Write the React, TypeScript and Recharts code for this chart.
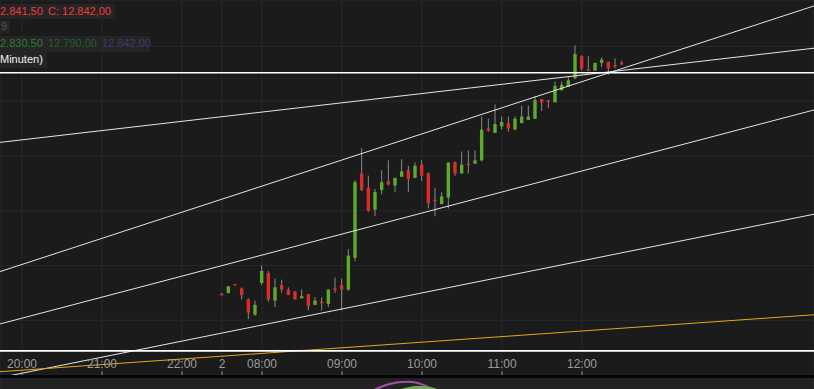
import React from 'react';
import { ComposedChart, Bar, Line, XAxis, YAxis, CartesianGrid, ReferenceLine } from 'recharts';

// 5-minute candles, slot 0 = start of session "2"
const OPEN = [
  12737, 12737.5, 12741.5, 12739.5, 12734.5, 12727.5, 12742, 12746.5, 12734, 12741,
  12739, 12738, 12735, 12737, 12732, 12733.5, 12732.5, 12739.5, 12741, 12739,
  12753.5, 12792, 12785.5, 12775.5, 12784.5, 12788.5, 12786.5, 12790.5, 12793.5, 12790,
  12796, 12792, 12780, 12778, 12781, 12797, 12792, 12796.5, 12796.5, 12798,
  12812.5, 12810.5, 12813.5, 12815, 12812, 12815, 12816.5, 12817, 12826, 12825.5,
  12824.5, 12830, 12831.5, 12835.5, 12845.5, 12839.5, 12839, 12842.5, 12843, 12841.5,
  12842.5,
];
const HIGH = [
  12737.5, 12740.5, 12741.5, 12740, 12735, 12734, 12750, 12747.5, 12744, 12743.5,
  12740, 12738.5, 12739, 12737, 12735.5, 12735.5, 12739, 12744.5, 12744, 12757.5,
  12789, 12803.5, 12791, 12785, 12793.5, 12798, 12790, 12798.5, 12795.5, 12797,
  12798, 12792.5, 12785.5, 12783.5, 12797, 12797.5, 12802, 12802.5, 12802.5, 12818,
  12817, 12823.5, 12818, 12818, 12818, 12823, 12823, 12827.5, 12826, 12825.5,
  12834, 12834, 12836, 12850.5, 12846, 12845.5, 12842.5, 12845, 12843, 12844.5,
  12843.5,
];
const LOW = [
  12736.5, 12737, 12741, 12734.5, 12725.5, 12727, 12741, 12733.5, 12731, 12737.5,
  12736.5, 12734.5, 12735, 12729.5, 12732, 12729.5, 12731, 12737.5, 12729.5, 12738.5,
  12752, 12784, 12774.5, 12772.5, 12782.5, 12786.5, 12783.5, 12790.5, 12783.5, 12790,
  12788.5, 12776, 12772.5, 12778, 12776, 12791, 12792, 12792, 12796.5, 12797.5,
  12811, 12810.5, 12812, 12811, 12812, 12815, 12816.5, 12817, 12820.5, 12822,
  12824.5, 12830, 12831.5, 12835, 12839, 12839, 12839, 12840.5, 12837, 12840,
  12841.5,
];
const CLOSE = [
  12736.5, 12740.5, 12741, 12736.5, 12728.5, 12732, 12747.5, 12734.5, 12740, 12739,
  12736.5, 12734.5, 12736, 12731.5, 12734, 12733, 12739, 12739, 12739, 12754.5,
  12788, 12784.5, 12775, 12783.5, 12788, 12787, 12790, 12793, 12789.5, 12795.5,
  12791, 12778.5, 12779.5, 12781.5, 12797, 12792, 12796, 12796, 12798, 12812,
  12811.5, 12814.5, 12815.5, 12812.5, 12817, 12818, 12818, 12825.5, 12824.5, 12825,
  12832, 12832.5, 12834.5, 12846.5, 12840, 12839, 12842.5, 12844, 12840, 12841,
  12842,
];

const TICK_SLOTS = [-30, -18, -6, 0, 6, 18, 30, 42, 54];
const TICK_LABELS = ['20:00', '21:00', '22:00', '2', '08:00', '09:00', '10:00', '11:00', '12:00'];
const PRICE_GRID = [12725, 12750, 12775, 12800, 12825, 12850];

// drawn lines: [slot, price] pairs
const LEVELS = [12838, 12711];
const TRENDS = [
  [[-33.3, 12806.2], [88.8, 12849.2]],
  [[-33.3, 12747.2], [88.8, 12868.5]],
  [[-33.3, 12723.3], [88.8, 12821]],
  [[-33.3, 12698.8], [88.8, 12773.4]],
];
const ORANGE_TREND = [[-33.3, 12701.5], [88.8, 12727.5]];

// lower indicator pane, only its upper edge is visible
const OSC_SLOTS = [22, 23, 24, 25, 26, 27, 28, 29, 30, 31, 32, 33];
const OSC_PURPLE = [85, 88.5, 91.5, 93.8, 95.3, 96.1, 96.3, 95.6, 93.6, 90.6, 86, 82];
const OSC_GREEN = [80, 82, 84, 85.5, 86.5, 87.8, 89.4, 90.6, 90.6, 89.7, 88, 85];

const X_DOMAIN = [-33.3, 88.8];
const Y_DOMAIN = [12700, 12871.2];

const candles = OPEN.map((o, i) => ({
  slot: i,
  open: o,
  high: HIGH[i],
  low: LOW[i],
  close: CLOSE[i],
  range: [LOW[i], HIGH[i]],
}));

const osc = OSC_SLOTS.map((s, i) => ({ slot: s, purple: OSC_PURPLE[i], green: OSC_GREEN[i] }));

const UP = '#5dab2d';
const DOWN = '#dc2b2b';
const WICK = '#8a8a8a';
const FONT = '"Liberation Sans", Arial, sans-serif';

const Candle = (props: any) => {
  const { x, y, width, height, payload } = props;
  const { open, close, high, low } = payload;
  const top = Math.min(y, y + height);
  const h = Math.abs(height);
  const ratio = high === low ? 0 : h / (high - low);
  const bodyTop = top + (high - Math.max(open, close)) * ratio;
  const bodyBottom = top + (high - Math.min(open, close)) * ratio;
  const cx = x + width / 2;
  return (
    <g>
      <line x1={cx} x2={cx} y1={top} y2={top + h} stroke={WICK} strokeWidth={1} />
      <rect
        x={cx - 1.7}
        y={bodyTop}
        width={3.4}
        height={Math.max(bodyBottom - bodyTop, 1.5)}
        fill={close >= open ? UP : DOWN}
      />
    </g>
  );
};

// labels sit inside the plot, just above the lower pane
const TimeTick = (props: any) => {
  const { x, payload } = props;
  const label = TICK_LABELS[TICK_SLOTS.indexOf(payload.value)];
  return (
    <g>
      <line x1={x} x2={x} y1={371.5} y2={375} stroke="#9a9a9a" />
      <text x={x} y={368} textAnchor="middle" fill="#9d9d9d" fontSize={12} fontFamily={FONT}>
        {label}
      </text>
    </g>
  );
};

export default function App() {
  return (
    <div
      style={{
        position: 'absolute',
        left: 0,
        top: 0,
        width: 814,
        height: 389,
        background: '#1b1b1b',
        overflow: 'hidden',
      }}
    >
      <ComposedChart width={814} height={375} data={candles} margin={{ top: 0, right: 0, bottom: 0, left: 0 }}>
        <CartesianGrid stroke="#292929" />
        <XAxis
          type="number"
          dataKey="slot"
          domain={X_DOMAIN}
          allowDataOverflow
          ticks={TICK_SLOTS}
          interval={0}
          mirror
          height={30}
          axisLine={false}
          tickLine={false}
          tick={<TimeTick />}
        />
        <YAxis hide type="number" domain={Y_DOMAIN} allowDataOverflow ticks={PRICE_GRID} />
        {TRENDS.map((t, i) => (
          <ReferenceLine
            key={`t-${i}`}
            segment={[{ x: t[0][0], y: t[0][1] }, { x: t[1][0], y: t[1][1] }]}
            stroke="#e6e6e6"
            strokeWidth={1}
            ifOverflow="hidden"
          />
        ))}
        <ReferenceLine
          segment={[
            { x: ORANGE_TREND[0][0], y: ORANGE_TREND[0][1] },
            { x: ORANGE_TREND[1][0], y: ORANGE_TREND[1][1] },
          ]}
          stroke="#eaa51a"
          strokeWidth={1}
          ifOverflow="hidden"
        />
        {LEVELS.map((v) => (
          <ReferenceLine key={v} y={v} stroke="#ffffff" strokeWidth={1.6} />
        ))}
        <Bar dataKey="range" barSize={4} shape={<Candle />} isAnimationActive={false} />
      </ComposedChart>

      <div style={{ position: 'absolute', left: 0, top: 375, width: 814, height: 3, background: '#050505' }} />
      <div style={{ position: 'absolute', left: 0, top: 378, width: 814, height: 11, background: '#222222' }}>
        <ComposedChart width={814} height={11} data={osc} margin={{ top: 0, right: 0, bottom: 0, left: 0 }}>
          <CartesianGrid stroke="#2e2e2e" horizontal={false} />
          <XAxis
            type="number"
            dataKey="slot"
            domain={X_DOMAIN}
            allowDataOverflow
            ticks={TICK_SLOTS}
            interval={0}
            mirror
            axisLine={false}
            tickLine={false}
            tick={false}
          />
          <YAxis hide type="number" domain={[89, 100]} allowDataOverflow />
          <Line type="monotone" dataKey="purple" stroke="#a24fa6" strokeWidth={2} dot={false} isAnimationActive={false} />
          <Line type="monotone" dataKey="green" stroke="#72ad55" strokeWidth={3} dot={false} isAnimationActive={false} />
        </ComposedChart>
      </div>

      <svg width={160} height={70} style={{ position: 'absolute', left: 0, top: 0 }} fontFamily={FONT} fontSize={11}>
        <rect x={0} y={4} width={115} height={15} fill="#252525" />
        <rect x={0} y={20.5} width={10} height={13} fill="#252525" />
        <rect x={0} y={36} width={150} height={16} fill="#252525" />
        <rect x={0} y={52} width={47} height={16} fill="#252525" />
        <text x={0} y={15} fill="#ef3b3b">2.841,50</text>
        <text x={48} y={15} fill="#ef3b3b">C: 12.842,00</text>
        <text x={1} y={30} fill="#3f5866">9</text>
        <text x={0} y={47} fill="#2e7d33">2.830,50</text>
        <text x={48} y={47} fill="#215e25">12.790,00</text>
        <text x={102} y={47} fill="#3b3970">12.842,00</text>
        <text x={0} y={63} fill="#f2f2f2">Minuten)</text>
      </svg>
    </div>
  );
}
